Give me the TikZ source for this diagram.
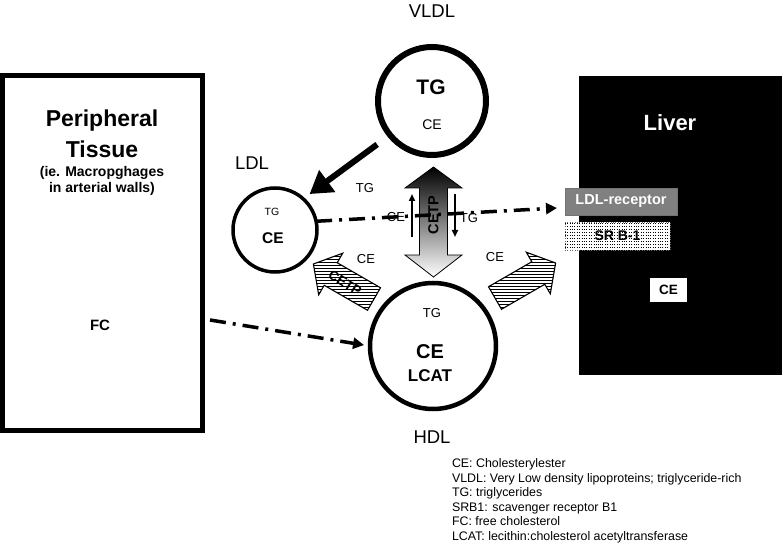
\documentclass[tikz,border=0pt]{standalone}
\usepackage{fontspec}
\setmainfont{Liberation Sans}
\usetikzlibrary{arrows.meta,patterns}
\newcommand{\fs}[1]{\fontsize{#1}{#1}\selectfont}
\begin{document}
\begin{tikzpicture}[x=1pt,y=-1pt,
  txt/.style={inner sep=0pt, outer sep=0pt},
  bigl/.style={txt, font=\fs{18.5}},
  ring/.style={circle, draw, inner sep=0pt, outer sep=0pt},
  ddline/.style={line width=3.5pt, dash pattern=on 16pt off 7pt on 3pt off 7pt, -{Triangle[length=11pt,width=11pt]}},
  hatcharrow/.style={draw, line width=1.1pt, pattern=horizontal lines, line join=miter},
  legend/.style={txt, anchor=base west, font=\fs{12.4}}]
\useasboundingbox (0,0) rectangle (782,545);

% Peripheral tissue
\node[draw, line width=5pt, minimum width=200pt, minimum height=355pt, inner sep=0pt] (periph) at (102.5,253) {};
\node[txt, font=\bfseries\fs{23}] (pt1) at (102,121) {Peripheral};
\node[txt, font=\bfseries\fs{23}] (pt2) at (102,149) {Tissue};
\node[txt, font=\bfseries\fs{14}] (pt3) at (102,173) {(ie. Macropghages};
\node[txt, font=\bfseries\fs{14}] (pt4) at (102,189) {in arterial walls)};
\node[txt, font=\bfseries\fs{15}] (fc) at (100,325) {FC};

% Liver
\node[fill=black, minimum width=203pt, minimum height=299pt, inner sep=0pt, anchor=north west] (liver) at (579,76) {};
\node[txt, text=white, font=\bfseries\fs{22}] (livert) at (670,123) {Liver};
\node[fill=black!50, draw=black!55, minimum width=112pt, minimum height=27pt, inner sep=0pt, text=white, font=\bfseries\fs{14.5}] (lrec) at (621,201.5) {LDL-receptor};
\node[fill=white, minimum width=105pt, minimum height=28pt, inner sep=0pt] (srbg) at (617.5,236) {};
\node[pattern=horizontal lines, draw=black!60, dotted, minimum width=105pt, minimum height=28pt, inner sep=0pt, font=\bfseries\fs{14}] (srb) at (617.5,236) {SR B-1};
\node[fill=white, minimum width=37pt, minimum height=24pt, inner sep=0pt, font=\bfseries\fs{13.5}] (cebox) at (668.5,290) {CE};

% Lipoproteins
\node[ring, line width=6pt, minimum size=108pt] (vldl) at (432,101) {};
\node[bigl] (vldlt) at (432,11) {VLDL};
\node[txt, font=\bfseries\fs{21}] (vtg) at (431,87) {TG};
\node[txt, font=\fs{14}] (vce) at (432,125) {CE};

\node[ring, line width=3.5pt, minimum size=84pt] (ldl) at (275,230) {};
\node[bigl] (ldlt) at (252,163) {LDL};
\node[txt, font=\fs{10.5}] (ltg) at (272,212) {TG};
\node[txt, font=\bfseries\fs{15.5}] (lce) at (273,238) {CE};

\node[ring, line width=4.5pt, minimum size=126pt] (hdl) at (433,346) {};
\node[bigl] (hdlt) at (432,437) {HDL};
\node[txt, font=\fs{13}] (htg) at (432,313) {TG};
\node[txt, font=\bfseries\fs{20}] (hce) at (430,352) {CE};
\node[txt, font=\bfseries\fs{17}] (hlcat) at (430,376) {LCAT};

% CETP vertical double arrow
\shade[top color=black, bottom color=white]
  (433.5,167) -- (462,188) -- (447.5,188) -- (447.5,255) -- (462,255) -- (433.5,277)
  -- (405,255) -- (419.5,255) -- (419.5,188) -- (405,188) -- cycle;
\draw[line width=0.8pt, line join=miter]
  (433.5,167) -- (462,188) -- (447.5,188) -- (447.5,255) -- (462,255) -- (433.5,277)
  -- (405,255) -- (419.5,255) -- (419.5,188) -- (405,188) -- cycle;

% hatched CETP arrows
\begin{scope}[shift={(374,299)}, rotate=150]
  \draw[hatcharrow] (0,-13) -- (50,-13) -- (50,-24) -- (70,0) -- (50,24) -- (50,13) -- (0,13) -- cycle;
\end{scope}
\begin{scope}[shift={(495,298)}, rotate=30]
  \draw[hatcharrow] (0,-13) -- (50,-13) -- (50,-24) -- (70,0) -- (50,24) -- (50,13) -- (0,13) -- cycle;
\end{scope}
\node[txt, font=\bfseries\fs{13.5}, rotate=-32] (cetpl) at (345,283) {CETP};

% connectors
\draw[line width=6pt, -{Triangle[length=22pt,width=26pt]}, shorten <=16pt, shorten >=8pt] (vldl.219) -- (ldl.48);
\coordinate (ldltip) at (557,208);
\draw[ddline] (ldl.12) -- (ldltip);
\draw[ddline, shorten >=6pt] ([shift={(5pt,-67pt)}]periph.east) -- (hdl.180);

% small exchange arrows
\coordinate (upb) at (412,237);
\coordinate (upt) at (412,194);
\coordinate (dnt) at (455,194);
\coordinate (dnb) at (455,237);
\draw[line width=2pt, -{Triangle[length=7pt,width=6pt]}] (upb) -- (upt);
\draw[line width=2pt, -{Triangle[length=7pt,width=6pt]}] (dnt) -- (dnb);

\node[txt, font=\bfseries\fs{14.5}, rotate=90] (cetpv) at (433.5,215) {CETP};

% labels
\node[txt, font=\fs{13}] (tgmid) at (365,188) {TG};
\node[txt, font=\fs{13}] (cemid) at (396,217) {CE};
\node[txt, font=\fs{13}] (tgmid2) at (469,218) {TG};
\node[txt, font=\fs{13}] (cel) at (366,259) {CE};
\node[txt, font=\fs{13}] (cer) at (495,257) {CE};

% legend
\node[legend] (lg1) at (452,467.5) {CE: Cholesterylester};
\node[legend] (lg2) at (452,482) {VLDL: Very Low density lipoproteins; triglyceride-rich};
\node[legend] (lg3) at (452,496.5) {TG: triglycerides};
\node[legend] (lg4) at (452,511) {SRB1: scavenger receptor B1};
\node[legend] (lg5) at (452,525.5) {FC: free cholesterol};
\node[legend] (lg6) at (452,540) {LCAT: lecithin:cholesterol acetyltransferase};
\end{tikzpicture}
\end{document}
